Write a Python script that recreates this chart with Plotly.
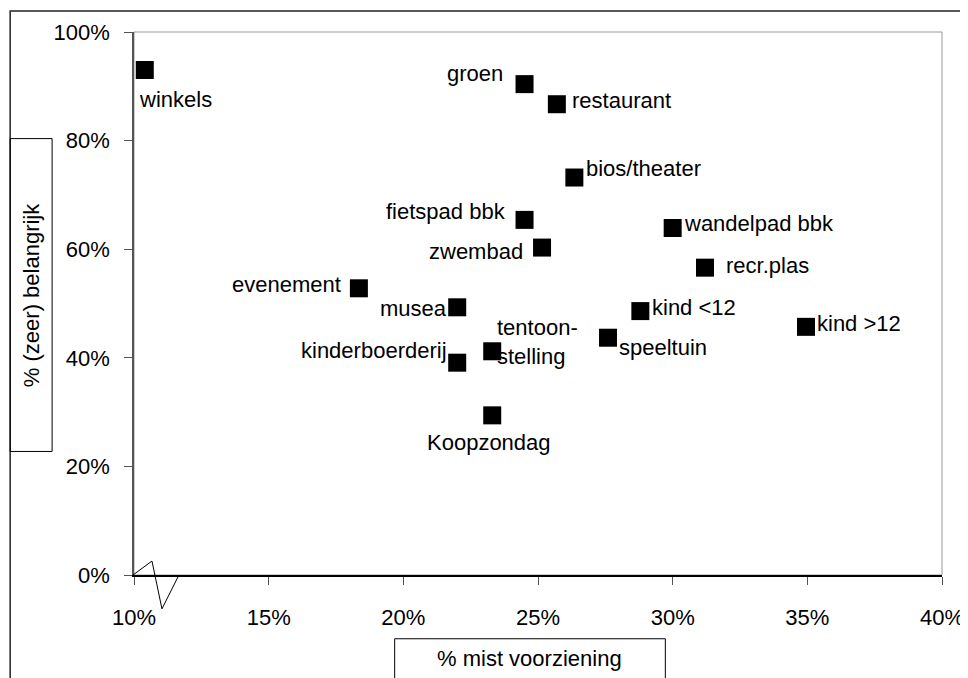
import plotly.graph_objects as go

# voorzieningen: % mist voorziening (x) vs % (zeer) belangrijk (y)
names = ["winkels", "groen", "restaurant", "bios/theater", "fietspad bbk",
         "zwembad", "wandelpad bbk", "recr.plas", "evenement", "musea",
         "kind <12", "kind >12", "tentoon-<br>stelling", "speeltuin",
         "kinderboerderij", "Koopzondag"]
mist = [10.4, 24.5, 25.7, 26.35, 24.5,
        25.15, 30.0, 31.2, 18.35, 22.0,
        28.8, 34.95, 23.3, 27.6,
        22.0, 23.3]
belangrijk = [93.0, 90.4, 86.7, 73.2, 65.4,
              60.3, 63.9, 56.6, 52.8, 49.3,
              48.6, 45.7, 41.2, 43.7,
              39.1, 29.4]

x_ticks = [10, 15, 20, 25, 30, 35, 40]
y_ticks = [0, 20, 40, 60, 80, 100]

# label placement: (xanchor, xshift, yshift) in pixels from marker centre
label_pos = {
    "winkels": ("left", -8, -29),
    "groen": ("right", -20, 11),
    "restaurant": ("left", 13, 4),
    "bios/theater": ("left", 10, 9),
    "fietspad bbk": ("right", -17, 8),
    "zwembad": ("right", -17, -4),
    "wandelpad bbk": ("left", 9, 5),
    "recr.plas": ("left", 19, 2),
    "evenement": ("right", -16, 4),
    "musea": ("right", -8, -1),
    "kind <12": ("left", 10, 4),
    "kind >12": ("left", 9, 3),
    "tentoon-<br>stelling": ("left", 3, 9),
    "speeltuin": ("left", 9, -10),
    "kinderboerderij": ("right", -8, 12),
    "Koopzondag": ("center", -3, -27),
}

FONT = "Liberation Sans, Arial, sans-serif"
OFF = 8  # page body margin
W, H = 968, 678
L, T = 134 - OFF, 30 - OFF
R, B = W - (943 - OFF), H - (575 - OFF)
pw, ph = W - L - R, H - T - B


def px(x):
    return (x - OFF - L) / pw


def py(y):
    return (H - B - (y - OFF)) / ph


fig = go.Figure()
fig.add_trace(go.Scatter(x=mist, y=belangrijk, mode="markers",
                         marker=dict(symbol="square", size=18, color="black"),
                         hoverinfo="text", text=names, showlegend=False))

for n, xv, yv in zip(names, mist, belangrijk):
    anchor, dx, dy = label_pos[n]
    fig.add_annotation(x=xv, y=yv, text=n, showarrow=False,
                       xanchor=anchor, yanchor="middle", align="left",
                       xshift=dx, yshift=dy,
                       font=dict(family=FONT, size=22, color="black"))

shapes = [
    # outer chart border
    dict(type="rect", xref="paper", yref="paper", x0=px(10), x1=px(1000),
         y0=py(720), y1=py(9), line=dict(color="#222", width=1.5)),
    # plot area border (top / right in grey)
    dict(type="rect", xref="paper", yref="paper", x0=0, x1=1, y0=0, y1=1,
         line=dict(color="#999", width=1), layer="below"),
    # y title box
    dict(type="rect", xref="paper", yref="paper", x0=px(10), x1=px(52),
         y0=py(451), y1=py(137), line=dict(color="black", width=1)),
    # x title box
    dict(type="rect", xref="paper", yref="paper", x0=px(395), x1=px(666),
         y0=py(720), y1=py(639), line=dict(color="black", width=1)),
    # axis break zig-zag
    dict(type="path", xref="paper", yref="paper",
         path=f"M {px(133)} {py(575)} L {px(152)} {py(561)} "
              f"L {px(162)} {py(609)} L {px(178)} {py(577)}",
         line=dict(color="black", width=1)),
]
fig.update_layout(shapes=shapes)

fig.add_annotation(xref="paper", yref="paper", x=px(31), y=py(294),
                   xanchor="center", yanchor="middle",
                   text="% (zeer) belangrijk", textangle=-90, showarrow=False,
                   font=dict(family=FONT, size=22, color="black"))
fig.add_annotation(xref="paper", yref="paper", x=px(530), y=py(659),
                   xanchor="center", yanchor="middle",
                   text="% mist voorziening", showarrow=False,
                   font=dict(family=FONT, size=22, color="black"))

fig.update_xaxes(range=[10, 40], tickvals=x_ticks,
                 ticktext=[f"{v}%" for v in x_ticks],
                 showgrid=False, zeroline=False, showline=True,
                 linecolor="black", linewidth=1.5,
                 ticks="outside", ticklen=8, tickcolor="#555",
                 ticklabelstandoff=14,
                 tickfont=dict(family=FONT, size=22, color="black"))
fig.update_yaxes(range=[0, 100], tickvals=y_ticks,
                 ticktext=[f"{v}%" for v in y_ticks],
                 showgrid=False, zeroline=False, showline=True,
                 linecolor="#555", linewidth=1.5,
                 ticks="outside", ticklen=8, tickcolor="#555",
                 ticklabelstandoff=10,
                 tickfont=dict(family=FONT, size=22, color="black"))

fig.update_layout(width=W, height=H, margin=dict(l=L, r=R, t=T, b=B),
                  plot_bgcolor="white", paper_bgcolor="white",
                  font=dict(family=FONT, color="black"))

fig.write_html("out.html")
